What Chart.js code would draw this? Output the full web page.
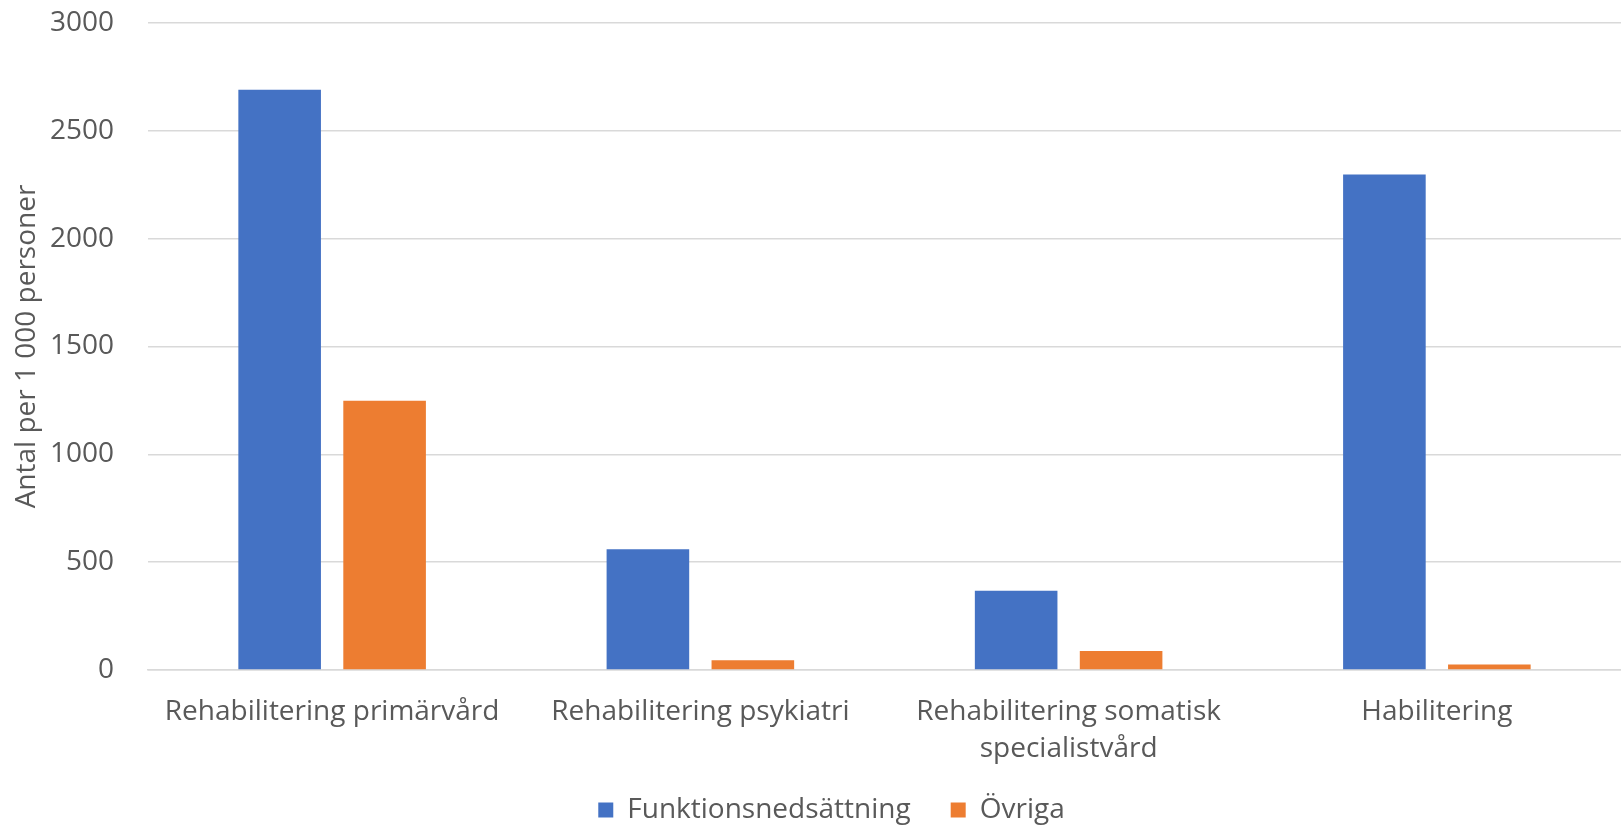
<!DOCTYPE html>
<html>
<head>
<meta charset="utf-8">
<script src="https://cdn.jsdelivr.net/npm/chart.js@4"></script>
<style>
  html, body { margin: 0; padding: 0; background: #fff; }
  #wrap { width: 1621px; height: 826px; position: relative; }
</style>
</head>
<body>
<div id="wrap"><canvas id="chart1"></canvas></div>
<script>
// data
const categories = [
  'Rehabilitering primärvård',
  'Rehabilitering psykiatri',
  ['Rehabilitering somatisk', 'specialistvård'],
  'Habilitering'
];
const funktionsnedsattning = [2690, 560, 367, 2297];
const ovriga = [1248, 45, 88, 26];
const yTicks = [0, 500, 1000, 1500, 2000, 2500, 3000];

const textColor = '#595959';
const gridColor = '#d9d9d9';
const fontFamily = "'Open Sans', 'Noto Sans', sans-serif";

// legend: wide gap between items but tight to the bottom, slightly right of centre
const legendTweak = {
  id: 'legendTweak',
  beforeLayout: function(chart) {
    const lg = chart.legend;
    if (lg && !lg._tweaked) {
      const origFit = lg.fit;
      lg.fit = function() {
        origFit.call(this);
        this.height -= 19;
      };
      lg._tweaked = true;
    }
  },
  afterLayout: function(chart) {
    const lg = chart.legend;
    if (!lg) return;
    lg.left += 42;
    lg.top -= 11;
    lg.bottom = chart.height;
  }
};

const ctx = document.getElementById('chart1');

const chart1 = new Chart(ctx, {
  type: 'bar',
  data: {
    labels: categories,
    datasets: [{
      label: 'Funktionsnedsättning',
      data: funktionsnedsattning,
      backgroundColor: '#4472c4',
      borderWidth: 0,
      categoryPercentage: 0.57,
      barPercentage: 0.787
    }, {
      label: 'Övriga',
      data: ovriga,
      backgroundColor: '#ed7d31',
      borderWidth: 0,
      categoryPercentage: 0.57,
      barPercentage: 0.787
    }]
  },
  plugins: [legendTweak],
  options: {
    responsive: true,
    maintainAspectRatio: false,
    animation: false,
    layout: {
      padding: { top: 23, left: 0, right: 0, bottom: 0 }
    },
    plugins: {
      tooltip: { enabled: false },
      legend: {
        position: 'bottom',
        labels: {
          color: textColor,
          font: { family: fontFamily, size: 28 },
          boxWidth: 15,
          boxHeight: 15,
          padding: 40
        }
      }
    },
    scales: {
      x: {
        grid: { display: false, drawTicks: false },
        border: { display: true, color: gridColor, width: 1.5 },
        ticks: {
          color: textColor,
          font: { family: fontFamily, size: 28, lineHeight: 1.3 },
          padding: 24,
          maxRotation: 0
        },
        afterFit: function(scale) {
          scale.height = 97;
        }
      },
      y: {
        min: 0,
        max: 3000,
        afterBuildTicks: function(scale) {
          scale.ticks = yTicks.map(v => ({ value: v }));
        },
        grid: { color: gridColor, lineWidth: 1.5, drawTicks: false },
        border: { display: false },
        ticks: {
          color: textColor,
          font: { family: fontFamily, size: 28 },
          padding: 34,
          callback: function(value) {
            return String(value);
          }
        },
        title: {
          display: true,
          text: 'Antal per 1 000 personer',
          color: textColor,
          font: { family: fontFamily, size: 28 },
          padding: { top: 10, bottom: 0 }
        },
        afterFit: function(scale) {
          scale.width = 148;
          scale.paddingTop = 0;
          scale.paddingBottom = 0;
        }
      }
    }
  }
});
</script>
</body>
</html>
